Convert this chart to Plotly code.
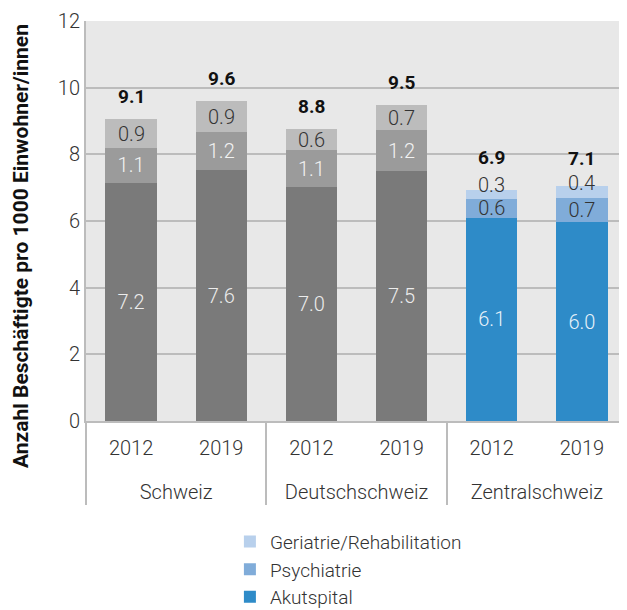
import plotly.graph_objects as go

regions = ["Schweiz", "Schweiz", "Deutschschweiz", "Deutschschweiz", "Zentralschweiz", "Zentralschweiz"]
years = ["2012", "2019", "2012", "2019", "2012", "2019"]

akut = [7.15, 7.53, 7.02, 7.50, 6.10, 5.97]
psych = [1.04, 1.14, 1.11, 1.23, 0.57, 0.72]
geri = [0.87, 0.93, 0.63, 0.75, 0.27, 0.36]

akut_lbl = ["7.2", "7.6", "7.0", "7.5", "6.1", "6.0"]
psych_lbl = ["1.1", "1.2", "1.1", "1.2", "0.6", "0.7"]
geri_lbl = ["0.9", "0.9", "0.6", "0.7", "0.3", "0.4"]
total_lbl = ["9.1", "9.6", "8.8", "9.5", "6.9", "7.1"]

names = ["Akutspital", "Psychiatrie", "Geriatrie/Rehabilitation"]
gray_cols = ["#7a7a7a", "#9b9b9b", "#bcbcbc"]
blue_cols = ["#2e8bc8", "#80acd9", "#b8d0ec"]
y_title = "Anzahl Beschäftigte pro 1000 Einwohner/innen"

FONT = "Roboto"
FS = 20
fig = go.Figure()

series = [akut, psych, geri]
labels = [akut_lbl, psych_lbl, None]
gray_txt = ["#ececec", "#f2f2f2", "#333333"]
blue_txt = ["#e8f2fa", "#333333", "#333333"]

for k in range(3):
    vals = series[k]
    for idx, cols, txtc, legend in [
        ([0, 1, 2, 3], gray_cols, gray_txt, False),
        ([4, 5], blue_cols, blue_txt, True),
    ]:
        lbl = labels[k]
        fig.add_trace(go.Bar(
            x=[["<br>" + regions[i] for i in idx], [years[i] for i in idx]],
            y=[vals[i] for i in idx],
            name=names[k],
            legendgroup=names[k],
            showlegend=legend,
            marker=dict(color=cols[k], line=dict(width=0)),
            width=0.57,
            text=[lbl[i] for i in idx] if lbl else None,
            textposition="inside" if lbl else "none",
            insidetextanchor="middle",
            constraintext="none",
            textangle=0,
            textfont=dict(family=FONT, size=FS, color=txtc[k], weight=300),
            hoverinfo="skip",
        ))

for i in range(6):
    tot = akut[i] + psych[i] + geri[i]
    gshift = 0 if i < 4 else 9
    fig.add_annotation(x=i, y=akut[i] + psych[i] + geri[i] / 2, xref="x", yref="y",
                       text=geri_lbl[i], showarrow=False, yshift=gshift,
                       font=dict(family=FONT, size=FS, color="#333333", weight=300))
    tshift = 23 if i < 4 else (32 if i == 4 else 28)
    fig.add_annotation(x=i, y=tot, xref="x", yref="y", text="<b>" + total_lbl[i] + "</b>",
                       showarrow=False, yshift=tshift,
                       font=dict(family=FONT, size=19, color="#111111"))

# y-axis title (placed like the original, centred on the chart incl. category labels)
fig.add_annotation(x=-0.1201, y=0.4375, xref="paper", yref="paper", xanchor="center",
                   yanchor="middle", textangle=-90, showarrow=False,
                   text="<b>" + y_title + "</b>",
                   font=dict(family=FONT, size=21, color="#111111"))

fig.update_layout(
    width=619, height=602,
    barmode="stack",
    margin=dict(l=78, r=0, t=13, b=189, autoexpand=False),
    plot_bgcolor="#e8e8e8",
    paper_bgcolor="white",
    font=dict(family=FONT, size=FS, color="#333333", weight=300),
    legend=dict(orientation="v", x=0.266, xanchor="left", y=-0.254, yanchor="top",
                traceorder="reversed", font=dict(family=FONT, size=19, color="#333333", weight=300),
                itemclick=False),
    showlegend=True,
)
fig.update_yaxes(range=[0, 12], dtick=2, showgrid=True, gridcolor="#bcbcbc", gridwidth=2,
                 zeroline=False, showline=True, linecolor="#bcbcbc", linewidth=2,
                 ticks="", automargin=False,
                 tickfont=dict(family=FONT, size=FS, color="#333333", weight=300))
fig.update_xaxes(type="multicategory", showline=True, linecolor="#bcbcbc", linewidth=2,
                 showdividers=True, dividercolor="#bcbcbc", dividerwidth=2,
                 ticks="outside", ticklen=14, tickcolor="rgba(0,0,0,0)", automargin=False,
                 ticklabelstandoff=8,
                 tickfont=dict(family=FONT, size=FS, color="#333333", weight=300),
                 range=[-0.5, 5.5])

fig.write_html("out.html")
